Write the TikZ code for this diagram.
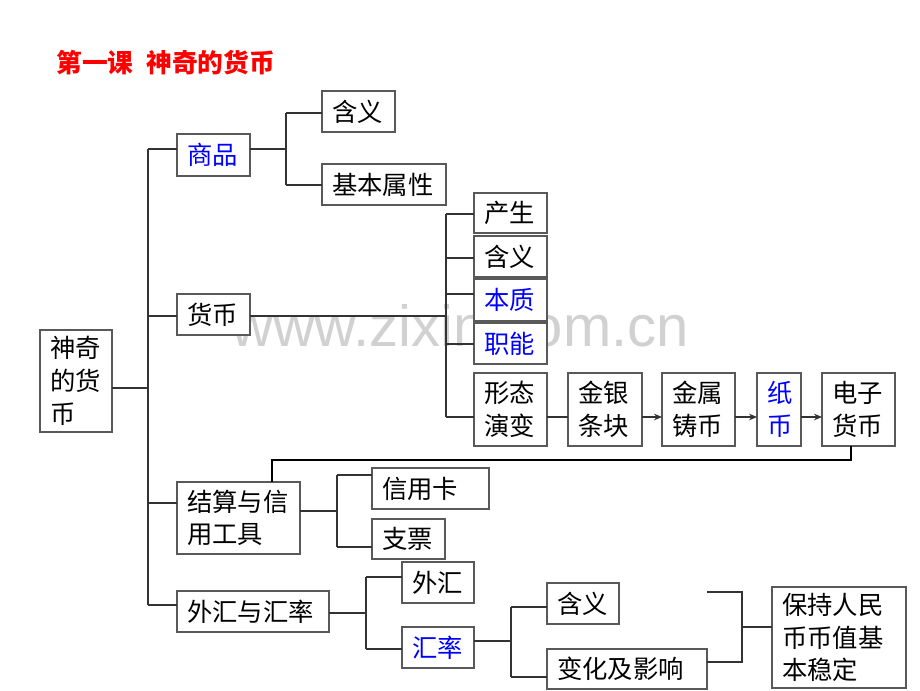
\documentclass[tikz,border=0pt]{standalone}
\usepackage{fontspec}
\newfontfamily\cjk{Noto Sans CJK SC}
\newfontfamily\wmfont{Liberation Sans}
\usetikzlibrary{arrows.meta}
\definecolor{myblue}{RGB}{0,0,255}
\definecolor{myred}{RGB}{255,0,0}
\tikzset{
  box/.style={draw=black!65, line width=0.9pt, fill=white, rectangle, inner xsep=7.5pt, inner ysep=0pt, outer sep=0pt, align=left, font=\cjk\fontsize{19}{24.5}\selectfont},
  ln/.style={draw=black!80, line width=0.8pt},
  thk/.style={draw=black, line width=1.5pt},
  arr/.style={ln, -{Stealth[length=6pt,width=5pt]}},
  bl/.style={text=myblue}
}
\newcommand\bx[7][]{%
  \pgfmathsetmacro\bxw{(#5-#3-20)*0.75}%
  \pgfmathsetmacro\bxh{(#6-#4)*0.75}%
  \node[box,#1,text width=\bxw pt,minimum height=\bxh pt,anchor=north west] (#2) at (#3,#4) {#7};}
\begin{document}
\begin{tikzpicture}[x=0.75pt,y=-0.75pt]
\useasboundingbox[fill=white] (0,0) rectangle (920,690);
% watermark
\node[text=black!18, font=\wmfont\fontsize{43.5}{43.5}\selectfont, anchor=base, inner sep=0pt] (wm) at (460,346) {www.zixin.com.cn};
% title
\node[anchor=west, inner sep=0pt, text=myred, font=\cjk\bfseries\fontsize{19.3}{24}\selectfont] (title) at (56,63) {第一课\hspace{0.5em}神奇的货币};
% boxes
\bx{hanyi1}{322}{91}{395}{132}{含义}
\bx[bl]{shangpin}{177}{134}{250}{176}{商品}
\bx{jiben}{322}{164}{446}{205}{基本属性}
\bx{chansheng}{474}{193}{547}{233}{产生}
\bx{hanyi2}{474}{236}{547}{277}{含义}
\bx[bl]{benzhi}{474}{279}{547}{321}{本质}
\bx[bl]{zhineng}{474}{323}{547}{364}{职能}
\bx{huobi}{177}{294}{250}{335}{货币}
\bx{root}{40}{330}{112}{432}{神奇\\的货\\币}
\bx{xingtai}{474}{373}{547}{446}{形态\\演变}
\bx{jinyin}{568}{373}{642}{446}{金银\\条块}
\bx{jinshu}{662}{373}{735}{446}{金属\\铸币}
\bx[bl]{zhibi}{757}{373}{801}{446}{纸\\币}
\bx{dianzi}{822}{373}{895}{446}{电子\\货币}
\bx{jiesuan}{177}{482}{300}{554}{结算与信\\用工具}
\bx{xinyong}{372}{468}{489}{509}{信用卡}
\bx{zhipiao}{372}{519}{445}{559}{支票}
\bx{waihui}{402}{562}{474}{603}{外汇}
\bx{wh}{177}{591}{329}{632}{外汇与汇率}
\bx[bl]{huilv}{402}{627}{474}{668}{汇率}
\bx{hanyi3}{547}{583}{619}{624}{含义}
\bx{bianhua}{547}{649}{707}{689}{变化及影响}
\bx{baochi}{772}{587}{906}{688}{保持人民\\币币值基\\本稳定}
% junction coordinates
\coordinate (tA) at (148,149);
\coordinate (tB) at (148,316);
\coordinate (tR) at (148,388);
\coordinate (tC) at (148,503);
\coordinate (tD) at (148,605);
\coordinate (sM) at (286,149);
\coordinate (sA) at (286,113);
\coordinate (sB) at (286,185);
\coordinate (hM) at (446,316);
\coordinate (hA) at (446,214);
\coordinate (hB) at (446,258);
\coordinate (hC) at (446,294);
\coordinate (hD) at (446,344);
\coordinate (hE) at (446,417);
\coordinate (cY) at (600,417);
\coordinate (e1) at (851,460);
\coordinate (e2) at (272,460);
\coordinate (jM) at (337,511);
\coordinate (jA) at (337,475);
\coordinate (jB) at (337,547);
\coordinate (wM) at (366,613);
\coordinate (wA) at (366,577);
\coordinate (wB) at (366,649);
\coordinate (rM) at (511,641);
\coordinate (rA) at (511,607);
\coordinate (rB) at (511,677);
\coordinate (k1) at (707,592);
\coordinate (k2) at (742,592);
\coordinate (k3) at (742,662);
\coordinate (k4) at (742,627);
% trunk
\draw[ln] (tA) -- (tD);
\draw[ln] (root.east |- tR) -- (tR);
\draw[ln] (tA) -- (shangpin.west |- tA);
\draw[ln] (tB) -- (huobi.west |- tB);
\draw[ln] (tC) -- (jiesuan.west |- tC);
\draw[ln] (tD) -- (wh.west |- tD);
% shangpin
\draw[ln] (shangpin.east |- sM) -- (sM);
\draw[ln] (sA) -- (sB);
\draw[ln] (sA) -- (hanyi1.west |- sA);
\draw[ln] (sB) -- (jiben.west |- sB);
% huobi
\draw[ln] (huobi.east |- hM) -- (hM);
\draw[ln] (hA) -- (hE);
\draw[ln] (hA) -- (chansheng.west |- hA);
\draw[ln] (hB) -- (hanyi2.west |- hB);
\draw[ln] (hC) -- (benzhi.west |- hC);
\draw[ln] (hD) -- (zhineng.west |- hD);
\draw[ln] (hE) -- (xingtai.west |- hE);
% chain
\draw[ln] (xingtai.east |- cY) -- (jinyin.west |- cY);
\draw[arr] (jinyin.east |- cY) -- (jinshu.west |- cY);
\draw[arr] (jinshu.east |- cY) -- (zhibi.west |- cY);
\draw[arr] (zhibi.east |- cY) -- (dianzi.west |- cY);
\draw[thk] (dianzi.south -| e1) -- (e1) -- (e2) -- (jiesuan.north -| e2);
% jiesuan
\draw[ln] (jiesuan.east |- jM) -- (jM);
\draw[ln] (jA) -- (jB);
\draw[ln] (jA) -- (xinyong.west |- jA);
\draw[ln] (jB) -- (zhipiao.west |- jB);
% waihui
\draw[ln] (wh.east |- wM) -- (wM);
\draw[ln] (wA) -- (wB);
\draw[ln] (wA) -- (waihui.west |- wA);
\draw[ln] (wB) -- (huilv.west |- wB);
% huilv
\draw[ln] (huilv.east |- rM) -- (rM);
\draw[ln] (rA) -- (rB);
\draw[ln] (rA) -- (hanyi3.west |- rA);
\draw[ln] (rB) -- (bianhua.west |- rB);
% bracket
\draw[ln] (k1) -- (k2) -- (k3) -- (bianhua.east |- k3);
\draw[ln] (k4) -- (baochi.west |- k4);
\end{tikzpicture}
\end{document}
